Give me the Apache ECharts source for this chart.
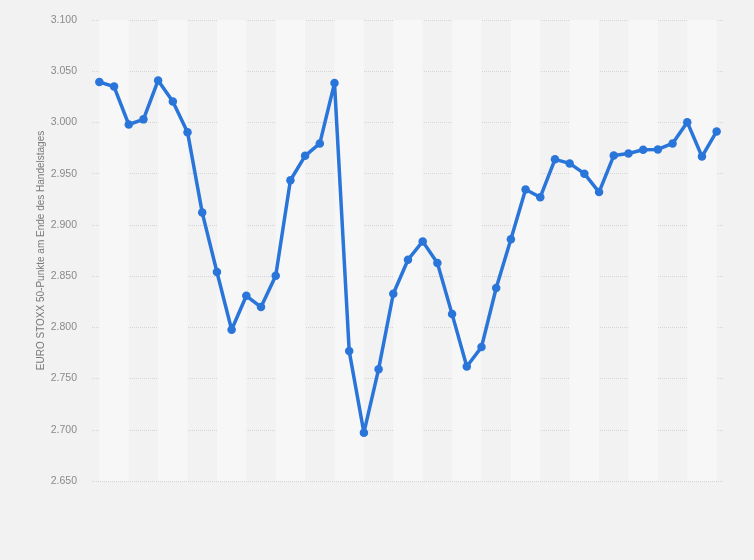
<!DOCTYPE html>
<html><head><meta charset="utf-8">
<script src="https://cdn.jsdelivr.net/npm/echarts@6/dist/echarts.min.js"></script>
<style>html,body{margin:0;padding:0;background:#f2f2f2}#c{width:754px;height:560px}</style>
</head><body><div id="c"></div>
<script>
const categories = ["1","2","3","4","5","6","7","8","9","10","11","12","13","14","15","16","17","18","19","20","21","22","23","24","25","26","27","28","29","30","31","32","33","34","35","36","37","38","39","40","41","42","43"];
const values = [3039.5,3035,2998,3003,3041,3020.5,2990.5,2912,2854,2797.6,2830.8,2819.8,2850.4,2943.6,2967.4,2979.5,3038.4,2776.8,2697.2,2759.2,2832.8,2866,2883.9,2862.8,2812.9,2761.7,2780.7,2838.4,2886,2934.5,2927,2964,2960,2950,2932,2967.7,2969.7,2973.3,2973.6,2979.5,3000.3,2966.7,2991.2];
const yTitle = "EURO STOXX 50-Punkte am Ende des Handelstages";
const yMin = 2650, yMax = 3100, yStep = 50;

const bands = [];
for (let i = 0; i + 2 < categories.length + 1; i += 4) {
  bands.push([{xAxis: categories[i]}, {xAxis: categories[Math.min(i + 2, categories.length - 1)]}]);
}
function fmt(v){ return (v/1000).toFixed(3); }

const chart = echarts.init(document.getElementById('c'), null, {renderer:'canvas'});
chart.setOption({
  backgroundColor: '#f2f2f2',
  animation: false,
  grid: {left: 92, right: 30, top: 20, bottom: 79},
  xAxis: {
    type: 'category', data: categories, boundaryGap: true,
    axisLine: {show: false}, axisTick: {show: false}, axisLabel: {show: false},
    splitLine: {show: false}
  },
  yAxis: {
    type: 'value', min: yMin, max: yMax, interval: yStep,
    name: yTitle, nameLocation: 'middle', nameGap: 46, nameMoveOverlap: false,
    nameTextStyle: {color: '#7a7a7a', fontSize: 10, fontFamily: 'Arial, Liberation Sans, sans-serif'},
    axisLine: {show: false}, axisTick: {show: false},
    axisLabel: {color: '#8a8a8a', fontSize: 10.5, margin: 15, fontFamily: 'Arial, Liberation Sans, sans-serif',
      formatter: v => fmt(v)},
    splitLine: {lineStyle: {color: '#d4d4d4', type: [1, 1], width: 1}}
  },
  series: [{
    type: 'line', data: values,
    lineStyle: {color: '#2a75d9', width: 3.5},
    itemStyle: {color: '#2a75d9'},
    symbol: 'circle', symbolSize: 8.5, showSymbol: true,
    markArea: {silent: true, itemStyle: {color: '#f7f7f7'}, data: bands},
    z: 3
  }]
});
</script></body></html>
